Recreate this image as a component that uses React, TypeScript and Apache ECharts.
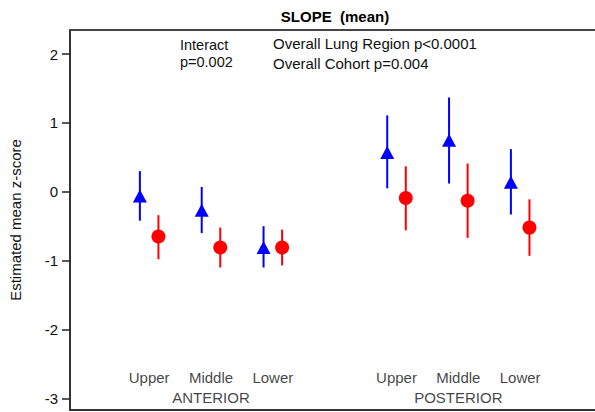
import React, { useEffect, useRef } from "react";
import * as echarts from "echarts";

const positions = [1, 2, 3, 5, 6, 7];
const regionLabels = ["Upper", "Middle", "Lower", "Upper", "Middle", "Lower"];
const groupLabels = ["ANTERIOR", "POSTERIOR"];
const groupPositions = [2, 6];

const blueMean = [-0.06, -0.27, -0.81, 0.57, 0.75, 0.14];
const blueLow = [-0.42, -0.6, -1.1, 0.05, 0.12, -0.33];
const blueHigh = [0.3, 0.07, -0.5, 1.11, 1.37, 0.62];

const redMean = [-0.65, -0.81, -0.81, -0.09, -0.13, -0.52];
const redLow = [-0.98, -1.1, -1.07, -0.56, -0.67, -0.93];
const redHigh = [-0.34, -0.52, -0.55, 0.37, 0.41, -0.11];

const yTicks = [-3, -2, -1, 0, 1, 2];

const OFFSET = 0.15;
const BLUE = "#0000ff";
const RED = "#ff0000";
const FONT = "Liberation Sans, Arial, sans-serif";
const FS = 15;

export default function App() {
  const ref = useRef<HTMLDivElement>(null);
  useEffect(() => {
    if (!ref.current) return;
    const chart = echarts.init(ref.current, undefined, { renderer: "svg" });

    const errRender = (color: string) => (params: any, api: any) => {
      const p1 = api.coord([api.value(0), api.value(1)]);
      const p2 = api.coord([api.value(0), api.value(2)]);
      return {
        type: "line",
        shape: { x1: p1[0], y1: p1[1], x2: p2[0], y2: p2[1] },
        style: { stroke: color, lineWidth: 2 },
      };
    };

    const textLabel = {
      show: true,
      position: "inside",
      formatter: (d: any) => d.name,
      fontSize: FS,
      color: "#111",
      fontFamily: FONT,
    };

    const note = (text: string, x: number, y: number, extra: any = {}) => ({
      type: "text",
      x,
      y,
      style: {
        text,
        fontSize: FS,
        lineHeight: 14,
        fill: "#111",
        fontFamily: FONT,
        align: "left",
        verticalAlign: "middle",
        ...extra,
      },
    });

    chart.setOption({
      animation: false,
      textStyle: { fontFamily: FONT },
      grid: { left: 69, top: 30, right: 0, bottom: 2 },
      xAxis: [
        {
          type: "value",
          min: -0.28,
          max: 8.21,
          position: "bottom",
          axisLine: { show: true, onZero: false, lineStyle: { color: "#333", width: 2 } },
          axisTick: { show: false },
          axisLabel: { show: false },
          splitLine: { show: false },
        },
        {
          type: "value",
          min: -0.28,
          max: 8.21,
          position: "top",
          axisLine: { show: true, onZero: false, lineStyle: { color: "#444", width: 2 } },
          axisTick: { show: false },
          axisLabel: { show: false },
          splitLine: { show: false },
        },
      ],
      yAxis: {
        type: "value",
        min: -3.17,
        max: 2.35,
        name: "Estimated mean z-score",
        nameLocation: "middle",
        nameGap: 47,
        nameTextStyle: { fontSize: FS, color: "#111", fontFamily: FONT },
        axisLine: { show: true, onZero: false, lineStyle: { color: "#333", width: 2 } },
        axisTick: {
          show: true,
          length: 8,
          customValues: yTicks,
          lineStyle: { color: "#222", width: 1.5 },
        },
        axisLabel: {
          show: true,
          customValues: yTicks,
          margin: 12,
          fontSize: FS,
          color: "#111",
          fontFamily: FONT,
        },
        splitLine: { show: false },
      },
      graphic: [
        note("SLOPE \u00a0(mean)", 335, 16, { align: "center", fontWeight: "bold", fill: "#000" }),
        note("Interact", 180, 45, { fontSize: 14.5 }),
        note("p=0.002", 180, 61.5, { fontSize: 14.5 }),
        note("Overall Lung Region p<0.0001", 273, 43.5),
        note("Overall Cohort p=0.004", 273, 63.5),
      ],
      series: [
        {
          type: "custom",
          renderItem: errRender(BLUE),
          encode: { x: 0, y: [1, 2] },
          data: positions.map((p, i) => [p - OFFSET, blueLow[i], blueHigh[i]]),
          z: 2,
        },
        {
          type: "custom",
          renderItem: errRender(RED),
          encode: { x: 0, y: [1, 2] },
          data: positions.map((p, i) => [p + OFFSET, redLow[i], redHigh[i]]),
          z: 2,
        },
        {
          type: "scatter",
          symbol: "triangle",
          symbolSize: [14, 13],
          itemStyle: { color: BLUE, opacity: 1 },
          data: positions.map((p, i) => [p - OFFSET, blueMean[i]]),
          z: 3,
        },
        {
          type: "scatter",
          symbol: "circle",
          symbolSize: 14,
          itemStyle: { color: RED, opacity: 1 },
          data: positions.map((p, i) => [p + OFFSET, redMean[i]]),
          z: 3,
        },
        {
          type: "scatter",
          symbolSize: 0,
          silent: true,
          label: textLabel,
          data: positions.map((p, i) => ({ name: regionLabels[i], value: [p, -2.7] })),
        },
        {
          type: "scatter",
          symbolSize: 0,
          silent: true,
          label: textLabel,
          data: groupPositions.map((p, i) => ({ name: groupLabels[i], value: [p, -2.99] })),
        },
      ],
    });
    return () => chart.dispose();
  }, []);
  return (
    <div
      ref={ref}
      style={{ position: "fixed", left: 0, top: 0, width: 595, height: 412, background: "#fff" }}
    />
  );
}
